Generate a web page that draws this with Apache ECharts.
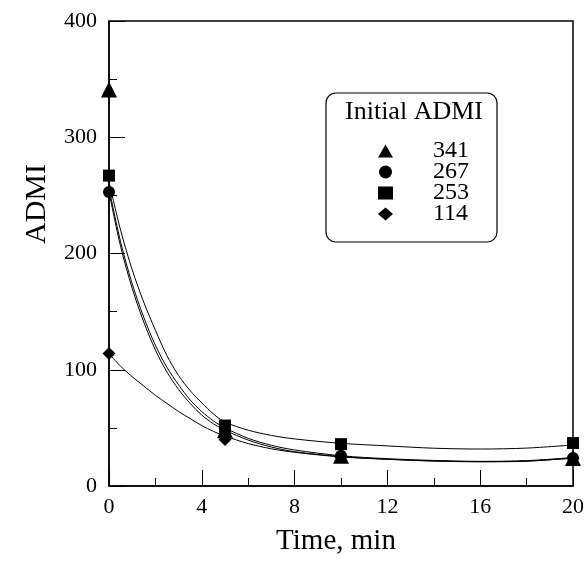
<!DOCTYPE html>
<html>
<head>
<meta charset="utf-8">
<script src="https://cdn.jsdelivr.net/npm/echarts@6/dist/echarts.min.js"></script>
<style>
  html, body { margin: 0; padding: 0; background: #fff; }
  #chart { width: 587px; height: 567px; }
</style>
</head>
<body>
<div id="chart"></div>
<script>
// Measured ADMI (time in min, ADMI)
const timePoints = [0, 5, 10, 20];
const admiTriangle = [341, 48, 26, 24];
const admiCircle = [253, 47, 26, 24];
const admiSquare = [267, 52, 36, 37];
const admiDiamond = [114, 40, 25, 24];

// Fitted decay curves, sampled along time
const curveTime = [0, 0.5, 1, 1.5, 2, 2.5, 3, 3.5, 4, 4.5, 5, 6, 7, 8, 10, 12, 14, 16, 18, 20];
const fitTriangle = [256, 210, 174, 145, 121, 102, 87, 74, 64, 56, 50, 41, 35, 31, 26, 23.5, 22, 21.2, 21.8, 24.5];
const fitCircle = [253, 206, 170, 141, 117, 98, 83, 71, 61, 53.5, 48, 39.5, 33.5, 29.5, 25.3, 23, 21.5, 20.8, 21.3, 24];
const fitSquare = [262, 220, 186, 158, 134, 112, 95, 82, 71.5, 62, 55, 48, 43.5, 40.5, 36.7, 34.5, 32.5, 31.8, 32.6, 35.3];
const fitDiamond = [114, 103, 94, 86, 78, 71, 64, 58, 52, 47, 43, 36.5, 32, 29, 25, 23, 21.5, 21, 21.5, 24];

// Legend entries and axis ticks
const legendTitle = 'Initial ADMI';
const legendNames = ['341', '267', '253', '114'];
const legendIcons = ['triangle', 'circle', 'rect', 'diamond'];
const xTicks = [0, 4, 8, 12, 16, 20];
const yTicks = [0, 100, 200, 300, 400];

const FONT = '"Liberation Serif", "Times New Roman", serif';
const pair = (xs, ys) => xs.map((x, i) => [x, ys[i]]);

const markers = [
  { name: legendNames[0], symbol: 'triangle', size: 16, data: pair(timePoints, admiTriangle) },
  { name: legendNames[1], symbol: 'circle', size: 12, data: pair(timePoints, admiCircle) },
  { name: legendNames[2], symbol: 'rect', size: 12, data: pair(timePoints, admiSquare) },
  { name: legendNames[3], symbol: 'diamond', size: 13, data: pair(timePoints, admiDiamond) }
];
const fits = [fitTriangle, fitCircle, fitSquare, fitDiamond];

const series = [];
fits.forEach((f, i) => {
  series.push({
    name: 'fit' + i,
    type: 'line',
    data: pair(curveTime, f),
    smooth: 0.3,
    showSymbol: false,
    lineStyle: { color: '#000', width: 1 },
    z: 2,
    silent: true
  });
});
markers.forEach(m => {
  series.push({
    name: m.name,
    type: 'scatter',
    data: m.data,
    symbol: m.symbol,
    symbolSize: m.size,
    itemStyle: { color: '#000', opacity: 1 },
    z: 5
  });
});

const chart = echarts.init(document.getElementById('chart'), null, { renderer: 'canvas' });
chart.setOption({
  backgroundColor: '#fff',
  animation: false,
  grid: {
    left: 109, right: 11, top: 21, bottom: 81,
    show: true, borderColor: '#000', borderWidth: 1.5, backgroundColor: 'transparent'
  },
  xAxis: {
    type: 'value', min: xTicks[0], max: xTicks[xTicks.length - 1], interval: 4,
    axisLine: { show: true, lineStyle: { color: '#000', width: 1.5 } },
    axisTick: { show: true, inside: true, length: 16, lineStyle: { color: '#000', width: 1 } },
    minorTick: { show: true, splitNumber: 2, length: 8, lineStyle: { color: '#000', width: 1 } },
    axisLabel: { color: '#000', fontFamily: FONT, fontSize: 22, margin: 10 },
    splitLine: { show: false }
  },
  yAxis: {
    type: 'value', min: yTicks[0], max: yTicks[yTicks.length - 1], interval: 100,
    axisLine: { show: true, lineStyle: { color: '#000', width: 1.5 } },
    axisTick: { show: true, inside: true, length: 16, lineStyle: { color: '#000', width: 1 } },
    minorTick: { show: true, splitNumber: 2, length: 8, lineStyle: { color: '#000', width: 1 } },
    axisLabel: { color: '#000', fontFamily: FONT, fontSize: 22, margin: 12 },
    splitLine: { show: false }
  },
  legend: {
    orient: 'vertical',
    left: 373, top: 134,
    itemWidth: 15, itemHeight: 13, itemGap: -3,
    data: legendNames.map((n, i) => ({ name: n, icon: legendIcons[i] })),
    itemStyle: { color: '#000', opacity: 1 },
    textStyle: { color: '#000', fontFamily: FONT, fontSize: 24, lineHeight: 24, padding: [0, 0, 0, 35] },
    selectedMode: false
  },
  graphic: [
    {
      type: 'rect', x: 326, y: 93, z: 1,
      shape: { width: 171, height: 149, r: 10 },
      style: { fill: 'transparent', stroke: '#000', lineWidth: 1.2 }
    },
    {
      type: 'text', z: 3,
      x: 414, y: 112,
      style: { text: legendTitle, fill: '#000', fontFamily: FONT, fontSize: 26, align: 'center', verticalAlign: 'middle' }
    },
    {
      type: 'text', z: 3,
      x: 37, y: 204, rotation: Math.PI / 2,
      style: { text: 'ADMI', fill: '#000', fontFamily: FONT, fontSize: 30, align: 'center', verticalAlign: 'middle' }
    },
    {
      type: 'text', z: 3,
      x: 336, y: 541,
      style: { text: 'Time, min', fill: '#000', fontFamily: FONT, fontSize: 29, align: 'center', verticalAlign: 'middle' }
    }
  ],
  series: series
});
</script>
</body>
</html>
